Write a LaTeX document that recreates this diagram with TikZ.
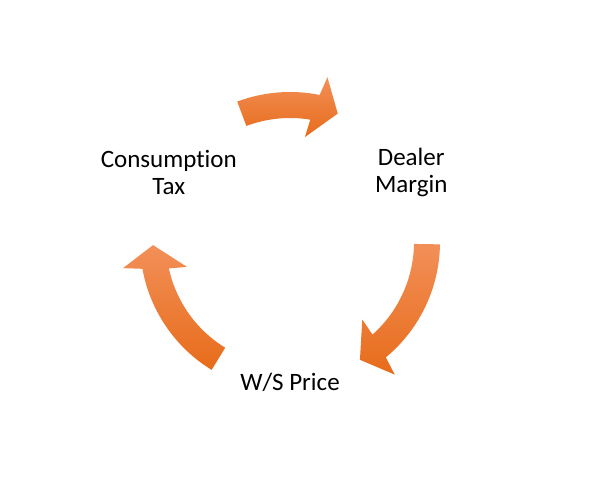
\documentclass[tikz,border=0pt]{standalone}
\usepackage{fontspec}
\setmainfont{Carlito}[Ligatures={NoCommon}]
\usepackage{tikz}
\usetikzlibrary{calc}

\definecolor{arrowlight}{RGB}{242,143,88}
\definecolor{arrowdark}{RGB}{231,108,26}

\tikzset{
  cyclelabel/.style={align=center,inner sep=0pt,font=\fontsize{25}{27}\selectfont},
  cycleshade/.style={top color=arrowlight,bottom color=arrowdark,draw=none}
}

% #1 tail angle, #2 tip angle (arrows run clockwise round c)
\newcommand{\cyclearrow}[2]{%
\shade[cycleshade,shift={(c)}] (#1:150) arc[start angle=#1,end angle={#2+9},radius=150]
  -- ({#2+7.6}:169) -- (#2:137) -- ({#2+12.3}:106) -- ({#2+11}:124)
  arc[start angle={#2+11},end angle=#1,radius=124] -- cycle;}

\begin{document}
\begin{tikzpicture}[x=1pt,y=1pt]
\useasboundingbox (0,0) rectangle (597,489);
\coordinate (c) at (290,247);
\node[cyclelabel] (tax) at ($(c)+(150:140)$) {Consumption\\Tax};
\node[cyclelabel] (margin) at ($(c)+(30:140)$) {Dealer\\Margin};
\node[cyclelabel] (price) at ($(c)+(270:140)$) {W/S Price};
\cyclearrow{110.6}{69.6}
\cyclearrow{-0.9}{-59.3}
\cyclearrow{238.5}{181.3}
\end{tikzpicture}
\end{document}
